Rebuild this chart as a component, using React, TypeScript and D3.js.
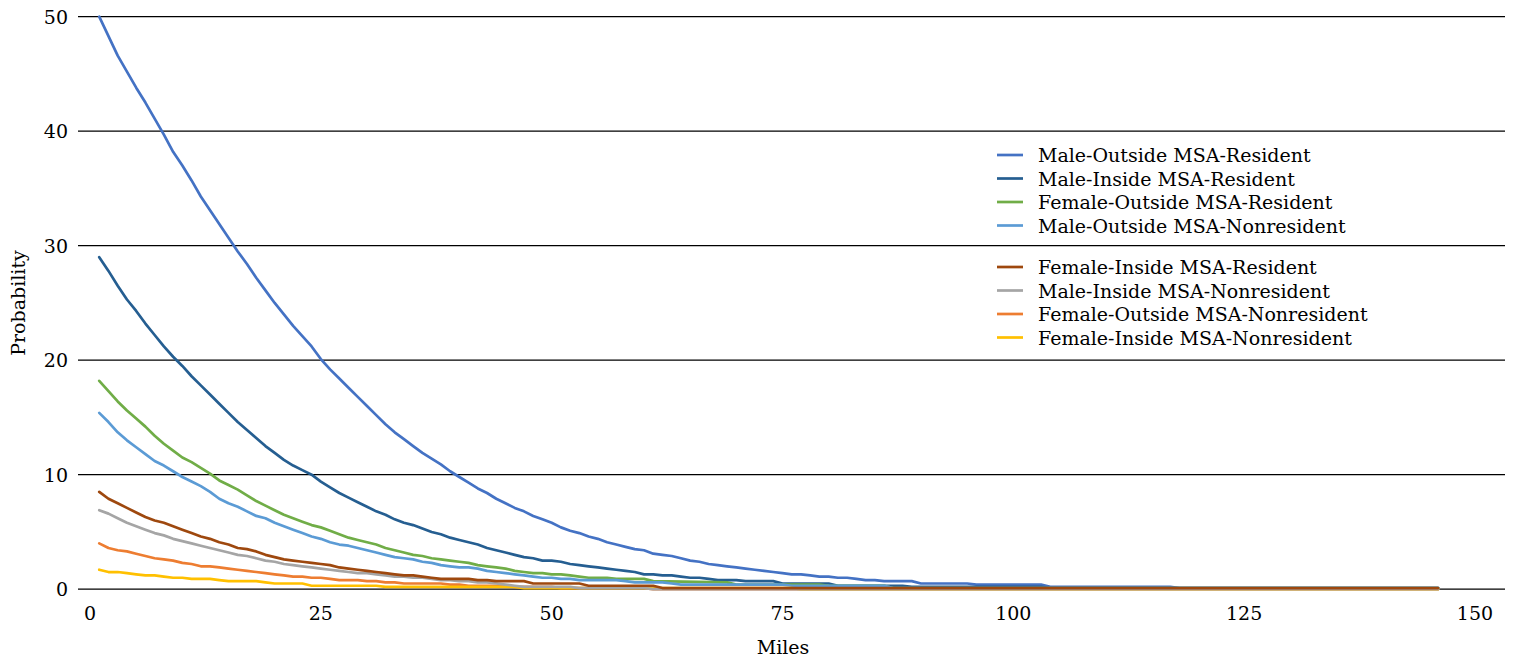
import React from "react";
import * as d3 from "d3";

// probability (%) by mile; head = consecutive miles from 1, tail = [mile, value] where the level changes
const maleOutsideResidentHead = [50.0, 48.3, 46.6, 45.2, 43.8, 42.5, 41.1, 39.7, 38.2, 37.0, 35.7, 34.3, 33.1, 31.9, 30.7, 29.5, 28.4, 27.2, 26.1, 25.0, 24.0, 23.0, 22.1, 21.2, 20.1, 19.2, 18.4, 17.6, 16.8, 16.0, 15.2, 14.4, 13.7, 13.1, 12.5, 11.9, 11.4, 10.9, 10.3, 9.8, 9.3, 8.8, 8.4, 7.9, 7.5, 7.1, 6.8, 6.4, 6.1, 5.8, 5.4, 5.1, 4.9, 4.6, 4.4, 4.1, 3.9, 3.7, 3.5, 3.4, 3.1, 3.0, 2.9, 2.7, 2.5, 2.4, 2.2, 2.1, 2.0, 1.9, 1.8, 1.7, 1.6, 1.5, 1.4, 1.3, 1.3, 1.2, 1.1, 1.1, 1.0, 1.0, 0.9, 0.8, 0.8, 0.7];
const maleOutsideResidentTail = [[89, 0.7], [90, 0.5], [95, 0.5], [96, 0.4], [103, 0.4], [104, 0.2], [117, 0.2], [118, 0.1], [146, 0.1]];

const maleInsideResidentHead = [29.0, 27.8, 26.5, 25.3, 24.3, 23.2, 22.2, 21.2, 20.3, 19.5, 18.6, 17.8, 17.0, 16.2, 15.4, 14.6, 13.9, 13.2, 12.5, 11.9, 11.3, 10.8, 10.4, 10.0, 9.4, 8.9, 8.4, 8.0, 7.6, 7.2, 6.8, 6.5, 6.1, 5.8, 5.6, 5.3, 5.0, 4.8, 4.5, 4.3, 4.1, 3.9, 3.6, 3.4, 3.2, 3.0, 2.8, 2.7, 2.5, 2.5, 2.4, 2.2, 2.1, 2.0, 1.9, 1.8, 1.7, 1.6, 1.5, 1.3, 1.3, 1.2, 1.2, 1.1, 1.0, 1.0, 0.9, 0.8, 0.8, 0.8, 0.7];
const maleInsideResidentTail = [[74, 0.7], [75, 0.5], [80, 0.5], [81, 0.3], [88, 0.3], [89, 0.2], [103, 0.2], [104, 0.1], [146, 0.1]];

const femaleOutsideResidentHead = [18.2, 17.3, 16.4, 15.6, 14.9, 14.2, 13.4, 12.7, 12.1, 11.5, 11.1, 10.6, 10.1, 9.5, 9.1, 8.7, 8.2, 7.7, 7.3, 6.9, 6.5, 6.2, 5.9, 5.6, 5.4, 5.1, 4.8, 4.5, 4.3, 4.1, 3.9, 3.6, 3.4, 3.2, 3.0, 2.9, 2.7, 2.6, 2.5, 2.4, 2.3, 2.1, 2.0, 1.9, 1.8, 1.6, 1.5, 1.4, 1.4, 1.3, 1.3, 1.2, 1.1, 1.0, 1.0, 1.0, 0.9, 0.9, 0.9, 0.9, 0.7];
const femaleOutsideResidentTail = [[69, 0.6], [70, 0.4], [79, 0.4], [80, 0.3], [86, 0.3], [87, 0.1], [146, 0.1]];

const maleOutsideNonresHead = [15.4, 14.6, 13.7, 13.0, 12.4, 11.8, 11.2, 10.8, 10.3, 9.8, 9.4, 9.0, 8.5, 7.9, 7.5, 7.2, 6.8, 6.4, 6.2, 5.8, 5.5, 5.2, 4.9, 4.6, 4.4, 4.1, 3.9, 3.8, 3.6, 3.4, 3.2, 3.0, 2.8, 2.7, 2.6, 2.4, 2.3, 2.1, 2.0, 1.9, 1.9, 1.8, 1.6, 1.5, 1.4, 1.3, 1.2, 1.1, 1.0, 1.0, 0.9, 0.9, 0.8];
const maleOutsideNonresTail = [[57, 0.8], [58, 0.7], [59, 0.6], [62, 0.6], [63, 0.5], [64, 0.4], [75, 0.4], [76, 0.3], [86, 0.3], [87, 0.1], [146, 0.1]];

const femaleInsideResidentHead = [8.5, 7.9, 7.5, 7.1, 6.7, 6.3, 6.0, 5.8, 5.5, 5.2, 4.9, 4.6, 4.4, 4.1, 3.9, 3.6, 3.5, 3.3, 3.0, 2.8, 2.6, 2.5, 2.4, 2.3, 2.2, 2.1, 1.9, 1.8, 1.7, 1.6, 1.5, 1.4, 1.3, 1.2, 1.2, 1.1, 1.0, 0.9, 0.9, 0.9, 0.9, 0.8, 0.8, 0.7];
const femaleInsideResidentTail = [[47, 0.7], [48, 0.5], [53, 0.5], [54, 0.3], [61, 0.3], [62, 0.1], [146, 0.1]];

const maleInsideNonresHead = [6.9, 6.6, 6.2, 5.8, 5.5, 5.2, 4.9, 4.7, 4.4, 4.2, 4.0, 3.8, 3.6, 3.4, 3.2, 3.0, 2.9, 2.7, 2.5, 2.4, 2.2, 2.1, 2.0, 1.9, 1.8, 1.7, 1.6, 1.5, 1.4, 1.4, 1.3, 1.2, 1.1, 1.1, 1.0, 1.0, 0.9, 0.8, 0.8, 0.7, 0.7, 0.6, 0.6, 0.5, 0.4, 0.3];
const maleInsideNonresTail = [[47, 0.2], [52, 0.2], [53, 0.1], [60, 0.1], [61, 0], [146, 0]];

const femaleOutsideNonresHead = [4.0, 3.6, 3.4, 3.3, 3.1, 2.9, 2.7, 2.6, 2.5, 2.3, 2.2, 2.0, 2.0, 1.9, 1.8, 1.7, 1.6, 1.5, 1.4, 1.3, 1.2, 1.1, 1.1, 1.0, 1.0, 0.9, 0.8, 0.8, 0.8, 0.7, 0.7, 0.6, 0.6, 0.5];
const femaleOutsideNonresTail = [[38, 0.5], [39, 0.4], [40, 0.4], [41, 0.3], [45, 0.3], [46, 0.2], [50, 0.2], [51, 0.1], [60, 0.1], [61, 0], [146, 0]];

const femaleInsideNonresHead = [1.7, 1.5, 1.5, 1.4, 1.3, 1.2, 1.2, 1.1, 1.0, 1.0, 0.9, 0.9, 0.9, 0.8, 0.7];
const femaleInsideNonresTail = [[18, 0.7], [19, 0.6], [20, 0.5], [23, 0.5], [24, 0.3], [31, 0.3], [32, 0.2], [46, 0.2], [47, 0.1], [76, 0.1], [77, 0], [146, 0]];

const xTicks = [0, 25, 50, 75, 100, 125, 150];
const yTicks = [0, 10, 20, 30, 40, 50];

const toPoints = (head: number[], tail: number[][]) =>
  head.map((v, i) => [i + 1, v]).concat(tail);

// legend order
const series = [
  { name: "Male-Outside MSA-Resident", color: "#4472c4", pts: toPoints(maleOutsideResidentHead, maleOutsideResidentTail) },
  { name: "Male-Inside MSA-Resident", color: "#255e91", pts: toPoints(maleInsideResidentHead, maleInsideResidentTail) },
  { name: "Female-Outside MSA-Resident", color: "#70ad47", pts: toPoints(femaleOutsideResidentHead, femaleOutsideResidentTail) },
  { name: "Male-Outside MSA-Nonresident", color: "#5b9bd5", pts: toPoints(maleOutsideNonresHead, maleOutsideNonresTail) },
  { name: "Female-Inside MSA-Resident", color: "#9e480e", pts: toPoints(femaleInsideResidentHead, femaleInsideResidentTail) },
  { name: "Male-Inside MSA-Nonresident", color: "#a5a5a5", pts: toPoints(maleInsideNonresHead, maleInsideNonresTail) },
  { name: "Female-Outside MSA-Nonresident", color: "#ed7d31", pts: toPoints(femaleOutsideNonresHead, femaleOutsideNonresTail) },
  { name: "Female-Inside MSA-Nonresident", color: "#ffc000", pts: toPoints(femaleInsideNonresHead, femaleInsideNonresTail) },
];
// brown ends up on top in the original, grey covers the zero-level ones
const drawOrder = [0, 1, 2, 3, 6, 7, 5, 4];

const W = 1515;
const H = 659;
const FONT = "'DejaVu Serif', serif";
const FS = 19;

export default function App() {
  const x = d3.scaleLinear().domain([0, 150]).range([90, 1475]);
  const y = d3.scaleLinear().domain([0, 50]).range([589.2, 16.7]);
  const line = d3.line<number[]>().x(d => x(d[0])).y(d => y(d[1]));

  const gridLeft = 78;
  const gridRight = 1505;
  const legendY = [155, 178.5, 202, 225.5, 267, 290.5, 314, 337.5];

  return (
    <svg width={W} height={H} style={{ position: "absolute", left: 0, top: 0, background: "#fff" }}>
      {yTicks.map(t => (
        <g key={t}>
          <line x1={gridLeft} x2={gridRight} y1={y(t)} y2={y(t)} stroke="#000" strokeWidth={1.3} />
          <text x={68} y={y(t)} textAnchor="end" dominantBaseline="central" fontFamily={FONT} fontSize={FS}>{t}</text>
        </g>
      ))}
      {xTicks.map(t => (
        <text key={t} x={x(t)} y={613} textAnchor="middle" dominantBaseline="central" fontFamily={FONT} fontSize={FS}>{t}</text>
      ))}
      {drawOrder.map(i => (
        <path key={series[i].name} d={line(series[i].pts) || ""} fill="none" stroke={series[i].color}
          strokeWidth={2.7} strokeLinejoin="round" strokeLinecap="round" />
      ))}
      {series.map((s, i) => (
        <g key={s.name}>
          <line x1={997} x2={1023} y1={legendY[i]} y2={legendY[i]} stroke={s.color} strokeWidth={2.7} />
          <text x={1038} y={legendY[i]} dominantBaseline="central" fontFamily={FONT} fontSize={FS}>{s.name}</text>
        </g>
      ))}
      <text x={783} y={647} textAnchor="middle" dominantBaseline="central" fontFamily={FONT} fontSize={FS}>Miles</text>
      <text transform="translate(18,303) rotate(-90)" textAnchor="middle" dominantBaseline="central" fontFamily={FONT} fontSize={FS}>Probability</text>
    </svg>
  );
}
